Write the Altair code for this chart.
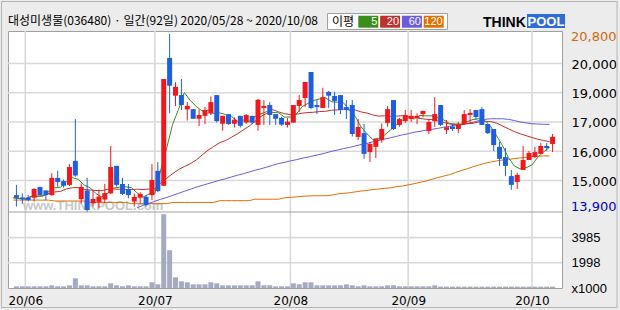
import altair as alt
import pandas as pd

# ---------------- data ----------------
TITLE = "대성미생물(036480) · 일간(92일) 2020/05/28 ~ 2020/10/08"

OPEN = [14500, 14420, 14420, 14410, 14780, 14660, 14500, 15090, 14980, 14850,
        15670, 14360, 14660, 14220, 14270, 14350, 14560, 15500, 14880, 14710,
        14280, 14410, 14440, 14500, 15330, 14820, 19190, 17900, 17920, 17430,
        17440, 17110, 17210, 17290, 17920, 16940, 17270, 16940, 17210, 16980,
        17210, 16900, 17480, 17580, 17270, 17140, 16900, 16980, 17550, 17820,
        18710, 17580, 17480, 18030, 17890, 17920, 17510, 17580, 16490, 16620,
        15970, 16150, 16380, 16970, 17750, 16900, 17030, 17100, 17140, 17270,
        16690, 17030, 17580, 16730, 16850, 16760, 16930, 17240, 17410, 17440,
        16930, 16760, 16150, 15800, 15150, 14950, 15360, 15700, 15800, 15910,
        16180, 16250]
HIGH = [14850, 14560, 14500, 14740, 14780, 14660, 15250, 15330, 15030, 15560,
        17100, 14900, 15090, 14680, 14680, 14880, 16180, 15500, 15090, 14880,
        14560, 14600, 14500, 15560, 15630, 18470, 20010, 18360, 18470, 17680,
        17440, 17430, 17520, 17870, 17920, 17210, 17270, 17160, 17210, 17270,
        17210, 17790, 17750, 17680, 17270, 17180, 17130, 17580, 17920, 18370,
        18710, 17750, 18170, 18060, 18030, 17920, 17750, 17750, 17100, 16930,
        16320, 16430, 16950, 17550, 17750, 17140, 17410, 17410, 17300, 17380,
        17090, 17850, 17580, 17070, 16920, 17000, 17410, 17440, 17410, 17510,
        16930, 16760, 16320, 16110, 15360, 15260, 16180, 16010, 16150, 16280,
        16280, 16590]
LOW = [14110, 14200, 14280, 14280, 14500, 14330, 14480, 14790, 14760, 14810,
       15130, 14220, 13930, 14110, 14050, 14220, 14540, 14790, 14500, 14390,
       14110, 14220, 14110, 14330, 14600, 14820, 17300, 17550, 17410, 17050,
       17110, 16860, 16930, 17240, 16980, 16700, 16900, 16810, 16810, 16940,
       16930, 16700, 16900, 16900, 16900, 16860, 16810, 16980, 17340, 17510,
       17440, 17270, 17480, 17480, 17240, 17270, 17100, 16500, 16380, 15740,
       15630, 15770, 16290, 16840, 16730, 16840, 16970, 17000, 16930, 17160,
       16590, 16830, 16860, 16590, 16690, 16620, 16930, 16930, 17070, 16900,
       16590, 16010, 15500, 15150, 14680, 14710, 15360, 15700, 15770, 15910,
       16010, 15970]
CLOSE = [14410, 14360, 14330, 14710, 14500, 14500, 15090, 14950, 14820, 15460,
         15170, 14780, 13990, 14370, 14450, 14570, 15460, 14850, 14540, 14500,
         14440, 14540, 14160, 15020, 14640, 18470, 18240, 18200, 17580, 17550,
         17110, 17240, 17410, 17680, 17030, 17210, 16930, 17080, 16870, 17240,
         16980, 17760, 17550, 17240, 17110, 16910, 17010, 17580, 17750, 18370,
         17480, 17510, 17850, 17900, 17720, 17410, 17410, 16590, 16830, 15910,
         16250, 16430, 16760, 17440, 16760, 17100, 17240, 17210, 17210, 17380,
         17000, 17270, 16900, 16820, 16760, 16910, 17270, 17310, 17170, 16900,
         16620, 16210, 15740, 15500, 14850, 15190, 15700, 15940, 15970, 16180,
         16110, 16490]
VOLUME = [132, 132, 132, 132, 132, 132, 211, 132, 132, 211,
          766, 211, 211, 132, 132, 132, 370, 211, 132, 211,
          132, 132, 132, 449, 290, 5834, 2983, 845, 528, 449,
          290, 290, 290, 449, 370, 211, 211, 211, 211, 211,
          211, 528, 211, 211, 132, 132, 132, 370, 290, 449,
          449, 211, 211, 211, 211, 211, 290, 211, 132, 211,
          132, 132, 132, 211, 211, 132, 132, 132, 132, 132,
          132, 211, 106, 106, 106, 106, 106, 106, 106, 106,
          106, 106, 106, 106, 106, 106, 106, 106, 106, 106,
          106, 106]
MA60 = [None] * 21 + [
    14070, 14150, 14220, 14290, 14360, 14420, 14490, 14560, 14630, 14700,
    14770, 14830, 14890, 14950, 15010, 15060, 15120, 15180, 15230, 15290,
    15350, 15400, 15460, 15520, 15580, 15620, 15670, 15710, 15760, 15800,
    15850, 15890, 15940, 16000, 16040, 16090, 16130, 16180, 16230, 16270,
    16320, 16370, 16420, 16460, 16510, 16560, 16600, 16650, 16680, 16720,
    16750, 16780, 16820, 16850, 16890, 16920, 16950, 16990, 17050, 17090,
    17110, 17110, 17110, 17090, 17050, 17000, 16970, 16940, 16930, 16920,
    16920]
MA120 = ([14330] * 7 + [14300] * 6 + [14250] * 7 + [14210] * 7 + [14250] * 8
         + [14310] * 6 + [14360] * 5 + [
    14410, 14420, 14440, 14460, 14470, 14480, 14480, 14480, 14500, 14540,
    14560, 14580, 14610, 14640, 14660, 14690, 14710, 14730, 14750, 14790,
    14810, 14850, 14890, 14940, 14980, 15040, 15100, 15150, 15200, 15270,
    15340, 15400, 15470, 15530, 15590, 15630, 15670, 15700, 15720, 15750,
    15770, 15790, 15820, 15830, 15840, 15840])

MONTH_START_IDX = [2, 24, 47, 67, 88]
MONTH_LABELS = ["20/06", "20/07", "20/08", "20/09", "20/10"]
PRICE_GRID = [15000, 16000, 17000, 18000, 19000]
PRICE_GRID_LABELS = ["15,000", "16,000", "17,000", "19,000", "20,000"]
EXTREME_AT = [19900, 14100]
EXTREME_LABELS = ["20,800", "13,900"]
VOL_GRID = [1998, 3985]
VOL_TICKS = [0, 1998, 3985]
MA_PERIODS = ["5", "20", "60", "120"]

# ---------------- styles ----------------
RED, BLUE = "#f0181c", "#1e5fe0"
VOLC = "#a3aac2"
GRID = "#d9d9d9"
BORDER = "#a0a0a0"
MA_COLORS = ["#3c8c1e", "#c0302c", "#6a5cdc", "#e07000"]

n = len(CLOSE)
df = pd.DataFrame({"i": list(range(n)), "open": OPEN, "high": HIGH, "low": LOW,
                   "close": CLOSE, "vol": VOLUME, "ma60": MA60, "ma120": MA120})
df["ma5"] = df["close"].rolling(5, min_periods=1).mean()
df["ma20"] = df["close"].rolling(20, min_periods=1).mean()
df["xm"] = df["i"] - 0.5


def ternary(values, labels, default="datum.label"):
    expr = default
    for v, l in reversed(list(zip(values, labels))):
        expr = f"datum.value == {v} ? '{l}' : ({expr})"
    return expr


XS = alt.Scale(domain=[-0.58333, 91.75], nice=False, zero=False)
YP = alt.Scale(domain=[13923, 20111], range=[181, 0], nice=False, zero=False)
YV = alt.Scale(domain=[0, 6009], range=[257, 181], nice=False, zero=False)

month_pos = [m - 0.5 for m in MONTH_START_IDX]
XAX = alt.Axis(values=month_pos, labelExpr=ternary(month_pos, MONTH_LABELS),
               grid=False, ticks=False, domain=False, labelPadding=7,
               labelFont="DejaVu Sans", labelFontSize=12, labelColor="black",
               title=None, labelFlush=False, labelOverlap=False)
PAX = alt.Axis(orient="right", values=PRICE_GRID,
               labelExpr=ternary(PRICE_GRID, PRICE_GRID_LABELS),
               grid=False, ticks=False, domain=False, labelPadding=9,
               labelFont="DejaVu Sans", labelFontSize=13, labelColor="black",
               title=None, labelAlign="left", labelBaseline="middle",
               labelFlush=False, labelOverlap=False, labelOffset=1)
VAX = alt.Axis(orient="right", values=VOL_TICKS, format="d",
               labelExpr="datum.value == 0 ? 'x1000' : datum.label",
               grid=False, ticks=False, domain=False, labelPadding=9,
               labelFont="Liberation Sans Narrow, Liberation Sans", labelFontSize=13,
               labelColor="black", title=None, labelAlign="left",
               labelBaseline="middle", labelFlush=False, labelOverlap=False)

base = alt.Chart(df)
X_i = alt.X("i:Q", scale=XS, axis=XAX)
X_m = alt.X("xm:Q", scale=XS, axis=XAX)
updown = alt.condition("datum.close >= datum.open", alt.value(RED), alt.value(BLUE))

# grid
vgrid = alt.Chart(pd.DataFrame({"m": month_pos})).mark_rule(
    color=GRID, strokeWidth=1.6).encode(x=alt.X("m:Q", scale=XS, axis=XAX))
pgrid = alt.Chart(pd.DataFrame({"p": PRICE_GRID})).mark_rule(
    color=GRID, strokeWidth=1.6).encode(y=alt.Y("p:Q", scale=YP, axis=PAX))
vgrid_h = alt.Chart(pd.DataFrame({"v": VOL_GRID})).mark_rule(
    color=GRID, strokeWidth=1.6).encode(y=alt.Y("v:Q", scale=YV, axis=VAX))

watermark = alt.Chart(pd.DataFrame({"t": ["www.THINKPOOL.com"]})).mark_text(
    align="left", baseline="alphabetic", font="Liberation Sans", fontWeight="bold",
    fontSize=13, color="#c8c8c8").encode(x=alt.value(15), y=alt.value(179), text="t:N")

ma_layers = []
for col, colr in zip(["ma120", "ma60", "ma20", "ma5"], MA_COLORS[::-1]):
    ma_layers.append(base.mark_line(strokeWidth=1, color=colr).encode(
        x=X_m, y=alt.Y(f"{col}:Q", scale=YP, axis=PAX)))

wick = base.mark_rule(strokeWidth=1).encode(
    x=X_i, y=alt.Y("low:Q", scale=YP, axis=PAX), y2="high:Q", color=updown)
body = base.mark_bar(size=5).encode(
    x=X_i, y=alt.Y("open:Q", scale=YP, axis=PAX), y2="close:Q", color=updown)

ext = alt.Chart(pd.DataFrame({"p": EXTREME_AT, "label": EXTREME_LABELS})).mark_text(
    align="left", baseline="middle", font="DejaVu Sans", fontSize=13).encode(
    x=alt.value(563), y=alt.Y("p:Q", scale=YP, axis=PAX), text="label:N",
    color=alt.condition("datum.p > 17000", alt.value("#d2690e"), alt.value("#0000c8")))

price = alt.layer(pgrid, *ma_layers, wick, body, ext)

vbars = base.mark_bar(size=5, color=VOLC).encode(
    x=X_i, y=alt.Y("vol:Q", scale=YV, axis=VAX), y2=alt.datum(0))
volume = alt.layer(vgrid_h, vbars)

dummy = pd.DataFrame({"a": [0]})
divider = alt.Chart(dummy).mark_rule(color=BORDER, strokeWidth=1).encode(
    x=alt.value(0), x2=alt.value(554), y=alt.value(181))
frame = alt.Chart(dummy).mark_rect(fillOpacity=0, stroke="#b4b4b4", strokeWidth=1).encode(
    x=alt.value(-6.5), x2=alt.value(609), y=alt.value(-29.5), y2=alt.value(276.5))

title = alt.Chart(pd.DataFrame({"t": [TITLE]})).mark_text(
    align="left", baseline="alphabetic", font="Noto Sans CJK KR", fontSize=12,
    color="black").encode(x=alt.value(0), y=alt.value(-6), text="t:N")

legend_layers = [
    alt.Chart(dummy).mark_rect(fill="white", stroke=BORDER, strokeWidth=1).encode(
        x=alt.value(319.5), x2=alt.value(439.5), y=alt.value(-17.5), y2=alt.value(-1.5)),
    alt.Chart(pd.DataFrame({"t": ["이평"]})).mark_text(
        align="left", baseline="middle", font="Noto Sans CJK KR", fontSize=12,
        color="black").encode(x=alt.value(324), y=alt.value(-9.5), text="t:N"),
]
for k, (lab, colr) in enumerate(zip(MA_PERIODS, MA_COLORS)):
    x0 = 350.3 + 21.8 * k
    legend_layers.append(alt.Chart(dummy).mark_rect(fill=colr).encode(
        x=alt.value(x0), x2=alt.value(x0 + 20), y=alt.value(-15.3), y2=alt.value(-3.3)))
    legend_layers.append(alt.Chart(pd.DataFrame({"t": [lab]})).mark_text(
        align="right", baseline="middle", font="Liberation Sans", fontSize=11,
        color="white").encode(x=alt.value(x0 + 19), y=alt.value(-9.2), text="t:N"))

logo = [
    alt.Chart(pd.DataFrame({"t": ["THINK"]})).mark_text(
        align="left", baseline="alphabetic", font="Liberation Sans", fontWeight="bold",
        fontSize=14, color="black").encode(x=alt.value(475), y=alt.value(-4.5), text="t:N"),
    alt.Chart(dummy).mark_rect(fill="#2f6cd6").encode(
        x=alt.value(519), x2=alt.value(557), y=alt.value(-17), y2=alt.value(-3)),
    alt.Chart(pd.DataFrame({"t": ["POOL"]})).mark_text(
        align="center", baseline="alphabetic", font="Liberation Sans", fontWeight="bold",
        fontSize=13, color="white").encode(x=alt.value(538), y=alt.value(-5), text="t:N"),
]

chart = alt.layer(vgrid, watermark, price, volume, divider, frame, title,
                  *legend_layers, *logo).resolve_scale(y="independent").properties(
    width=554, height=257,
    padding={"left": 8, "top": 31, "right": 58, "bottom": 22},
    autosize=alt.AutoSizeParams(type="none"),
    background="#ececec",
).configure_view(stroke=BORDER, fill="white")

chart.save("out.html", embed_options={"renderer": "svg", "actions": False})
